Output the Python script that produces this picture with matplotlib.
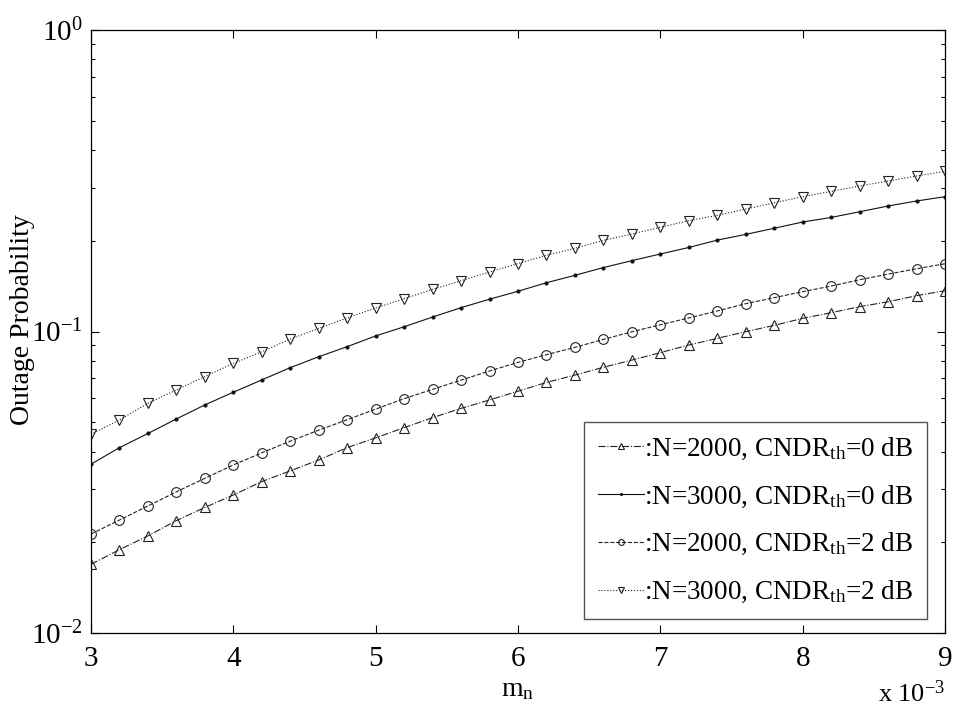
import matplotlib
matplotlib.use("Agg")
import matplotlib.pyplot as plt
import numpy as np

plt.rcParams['font.family'] = ['Liberation Serif', 'DejaVu Serif']
plt.rcParams['mathtext.fontset'] = 'custom'
plt.rcParams['mathtext.rm'] = 'Liberation Serif'
plt.rcParams['mathtext.it'] = 'Liberation Serif:italic'

# m_n in units of 1e-3
m_n = [3.0, 3.2, 3.4, 3.6, 3.8, 4.0, 4.2, 4.4, 4.6, 4.8, 5.0, 5.2, 5.4, 5.6, 5.8, 6.0,
       6.2, 6.4, 6.6, 6.8, 7.0, 7.2, 7.4, 7.6, 7.8, 8.0, 8.2, 8.4, 8.6, 8.8, 9.0]

p_n2000_0db = [0.0169, 0.0189, 0.0210, 0.0236, 0.0261, 0.0287, 0.0318, 0.0345, 0.0375, 0.0412,
               0.0444, 0.0480, 0.0518, 0.0556, 0.0593, 0.0634, 0.0678, 0.0717, 0.0761, 0.0804,
               0.0851, 0.0902, 0.0949, 0.0999, 0.1048, 0.1106, 0.1155, 0.1209, 0.1255, 0.1315, 0.1366]
p_n3000_0db = [0.0363, 0.0412, 0.0459, 0.0513, 0.0571, 0.0629, 0.0691, 0.0759, 0.0825, 0.0891,
               0.0967, 0.1037, 0.1117, 0.1200, 0.1280, 0.1360, 0.1452, 0.1536, 0.1630, 0.1718,
               0.1808, 0.1900, 0.2010, 0.2100, 0.2200, 0.2308, 0.2390, 0.2496, 0.2608, 0.2710, 0.2800]
p_n2000_2db = [0.0213, 0.0237, 0.0264, 0.0294, 0.0326, 0.0361, 0.0396, 0.0433, 0.0471, 0.0510,
               0.0553, 0.0599, 0.0643, 0.0690, 0.0740, 0.0790, 0.0838, 0.0886, 0.0942, 0.0998,
               0.1053, 0.1109, 0.1170, 0.1237, 0.1295, 0.1356, 0.1415, 0.1485, 0.1550, 0.1615, 0.1678]
p_n3000_2db = [0.0456, 0.0509, 0.0578, 0.0640, 0.0709, 0.0784, 0.0857, 0.0944, 0.1024, 0.1110,
               0.1197, 0.1285, 0.1380, 0.1474, 0.1575, 0.1680, 0.1790, 0.1888, 0.2006, 0.2106,
               0.2216, 0.2332, 0.2428, 0.2548, 0.2674, 0.2800, 0.2917, 0.3039, 0.3157, 0.3280, 0.3400]

labels = [r':N=2000, CNDR$_{\mathrm{th}}$=0 dB',
          r':N=3000, CNDR$_{\mathrm{th}}$=0 dB',
          r':N=2000, CNDR$_{\mathrm{th}}$=2 dB',
          r':N=3000, CNDR$_{\mathrm{th}}$=2 dB']

fig = plt.figure(figsize=(9.54, 7.08), dpi=100)
ax = fig.add_axes([0.0954, 0.1059, 0.8952, 0.8517])

lw = 0.8
ax.plot(m_n, p_n2000_0db, '-.', color='#222222', lw=lw, marker='^', ms=7,
        mfc='none', mew=0.8, label=labels[0])
ax.plot(m_n, p_n3000_0db, '-', color='#111111', lw=lw, marker='.', ms=4,
        label=labels[1])
ax.plot(m_n, p_n2000_2db, '--', color='#222222', lw=lw, marker='o', ms=7,
        mfc='none', mew=0.8, label=labels[2])
ax.plot(m_n, p_n3000_2db, ':', color='#222222', lw=lw, marker='v', ms=7,
        mfc='none', mew=0.8, label=labels[3])

ax.set_yscale('log')
ax.set_xlim(3, 9)
ax.set_ylim(1e-2, 1)
ax.set_xticks([3, 4, 5, 6, 7, 8, 9])
ax.set_xticklabels(['3', '4', '5', '6', '7', '8', '9'])
ax.tick_params(which='both', direction='in', top=True, right=True, labelsize=21)
ax.tick_params(which='major', length=6, width=0.8)
ax.tick_params(which='minor', length=3, width=0.8)
ax.tick_params(axis='x', pad=9)
ax.tick_params(axis='y', pad=6)
for s in ax.spines.values():
    s.set_linewidth(0.9)

ax.set_xlabel(r'm$_{\mathrm{n}}$', fontsize=20, labelpad=4)
ax.set_ylabel('Outage Probability', fontsize=20)
ax.yaxis.set_label_coords(-0.066, 0.52)
ax.text(1.0, -0.1, r'x 10$^{\mathrm{-3}}$', transform=ax.transAxes,
        ha='right', va='center', fontsize=19)

leg = ax.legend(loc='lower right', bbox_to_anchor=(0.988, 0.01), fontsize=19.5,
                handlelength=1.7, handletextpad=0.0, borderpad=0.5,
                labelspacing=0.8, fancybox=False, edgecolor='#555555',
                framealpha=1, markerscale=0.6, borderaxespad=0.3)
leg.get_frame().set_linewidth(1.0)

fig.savefig('out.png', dpi=100)
